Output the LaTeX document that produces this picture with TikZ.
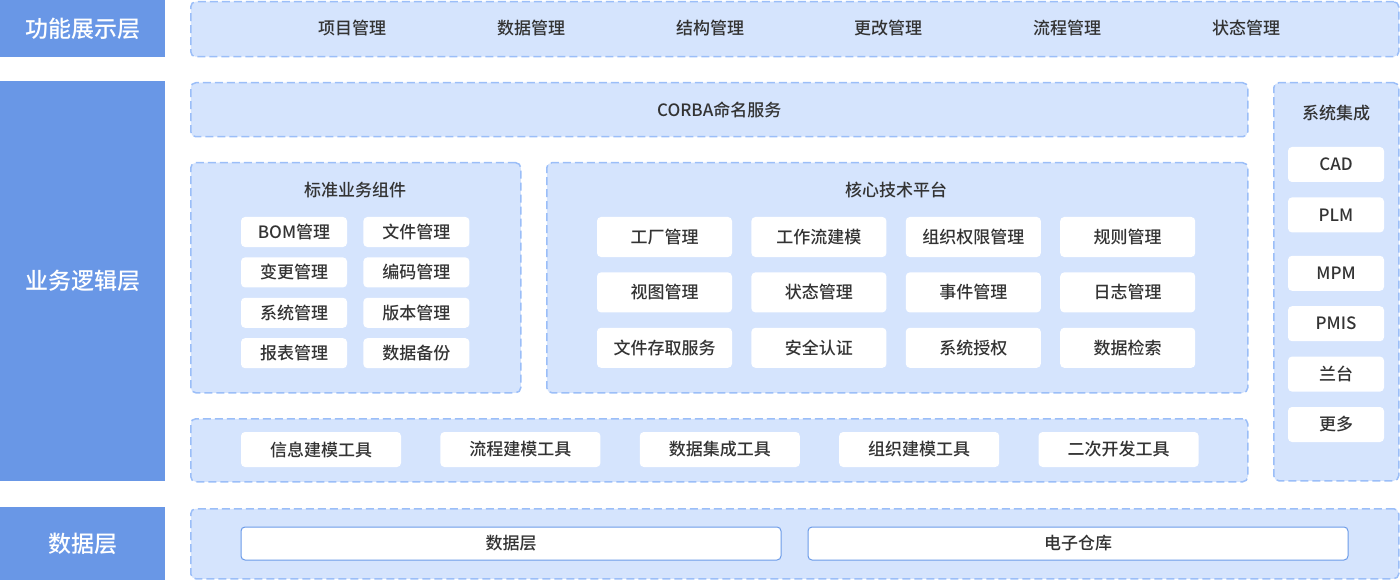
\documentclass[tikz,border=0pt]{standalone}
\usepackage{fontspec}
\setmainfont{Noto Sans CJK SC Medium}
\usetikzlibrary{positioning}
\definecolor{layerblue}{HTML}{6997E6}
\definecolor{framefill}{HTML}{D5E4FD}
\definecolor{framedash}{HTML}{9BBEF8}
\definecolor{txtgray}{HTML}{333333}
\definecolor{lineblue}{HTML}{6B9BE8}
\tikzstyle{layer} = [rectangle, fill=layerblue, text=white, inner sep=0pt,
    font=\fontsize{23}{23}\selectfont, minimum width=165pt, anchor=north west]
\tikzstyle{frame} = [rectangle, draw=framedash, fill=framefill, line width=1.5pt,
    dash pattern=on 8pt off 4pt, rounded corners=5pt, inner sep=0pt, anchor=north west]
\tikzstyle{heading} = [text=txtgray, font=\fontsize{17}{17}\selectfont, inner sep=0pt]
\tikzstyle{item} = [rectangle, fill=white, rounded corners=4pt, text=txtgray,
    font=\fontsize{17}{17}\selectfont, inner sep=0pt]
\tikzstyle{stditem} = [item, minimum width=106pt, minimum height=30pt]
\tikzstyle{coreitem} = [item, minimum width=135pt, minimum height=40pt]
\tikzstyle{sysitem} = [item, minimum width=96pt, minimum height=35pt]
\tikzstyle{toolitem} = [item, minimum width=160pt, minimum height=35pt]
\tikzstyle{dataitem} = [item, draw=lineblue, line width=1pt, minimum width=540pt, minimum height=33pt]
\begin{document}
\begin{tikzpicture}[x=1pt,y=-1pt]
  \useasboundingbox (0,0) rectangle (1400,580);

  % layers on the left
  \node[layer, minimum height=57pt]  (lshow)  at (0,0)   {功能展示层};
  \node[layer, minimum height=400pt] (llogic) at (0,81)  {业务逻辑层};
  \node[layer, minimum height=73pt]  (ldata)  at (0,507) {数据层};

  % dashed frames
  \node[frame, minimum width=1208pt, minimum height=55pt]  (show)  at (190,1)    {};
  \node[frame, minimum width=1057pt, minimum height=54pt]  (corba) at (190,82)   {};
  \node[frame, minimum width=330pt,  minimum height=230pt] (std)   at (190,162)  {};
  \node[frame, minimum width=701pt,  minimum height=230pt] (core)  at (546,162)  {};
  \node[frame, minimum width=1057pt, minimum height=63pt]  (tools) at (190,418)  {};
  \node[frame, minimum width=125pt,  minimum height=398pt] (integ) at (1273,82)  {};
  \node[frame, minimum width=1208pt, minimum height=70pt]  (data)  at (190,508)  {};

  % function display
  \node[heading] (proj)   at (352,28)  {项目管理};
  \node[heading] (dmgmt)  at (531,28)  {数据管理};
  \node[heading] (struct) at (710,28)  {结构管理};
  \node[heading] (change) at (888,28)  {更改管理};
  \node[heading] (flow)   at (1067,28) {流程管理};
  \node[heading] (state)  at (1246,28) {状态管理};

  \node[heading] (corbat) at (corba.center) {CORBA命名服务};

  % standard components
  \node[heading] (stdt) at (355,190) {标准业务组件};
  \node[stditem] (bom)    at (294,232)          {BOM管理};
  \node[stditem] (file)   [right=16pt of bom]   {文件管理};
  \node[stditem] (chg)    [below=10pt of bom]   {变更管理};
  \node[stditem] (code)   [right=16pt of chg]   {编码管理};
  \node[stditem] (sys)    [below=10pt of chg]   {系统管理};
  \node[stditem] (ver)    [right=16pt of sys]   {版本管理};
  \node[stditem] (report) [below=10pt of sys]   {报表管理};
  \node[stditem] (backup) [right=16pt of report] {数据备份};

  % core platform
  \node[heading] (coret) at (896,190) {核心技术平台};
  \node[coreitem] (factory) at (664.5,237)        {工厂管理};
  \node[coreitem] (wflow)  [right=19pt of factory] {工作流建模};
  \node[coreitem] (perm)   [right=19pt of wflow]   {组织权限管理};
  \node[coreitem] (rule)   [right=19pt of perm]    {规则管理};
  \node[coreitem] (view)   [below=15pt of factory] {视图管理};
  \node[coreitem] (stat)   [right=19pt of view]    {状态管理};
  \node[coreitem] (event)  [right=19pt of stat]    {事件管理};
  \node[coreitem] (log)    [right=19pt of event]   {日志管理};
  \node[coreitem] (access) [below=15pt of view]    {文件存取服务};
  \node[coreitem] (auth)   [right=19pt of access]  {安全认证};
  \node[coreitem] (grant)  [right=19pt of auth]    {系统授权};
  \node[coreitem] (search) [right=19pt of grant]   {数据检索};

  % tools
  \node[toolitem] (info)   at (321,449.5)          {信息建模工具};
  \node[toolitem] (ftool)  [right=39pt of info]    {流程建模工具};
  \node[toolitem] (dtool)  [right=39pt of ftool]   {数据集成工具};
  \node[toolitem] (otool)  [right=39pt of dtool]   {组织建模工具};
  \node[toolitem] (dev)    [right=39pt of otool]   {二次开发工具};

  % system integration
  \node[heading] (integt) at (1336,113) {系统集成};
  \node[sysitem] (cad)   at (1336,164.5)       {CAD};
  \node[sysitem] (plm)   [below=15pt of cad]   {PLM};
  \node[sysitem] (mpm)   [below=23pt of plm]   {MPM};
  \node[sysitem] (pmis)  [below=15pt of mpm]   {PMIS};
  \node[sysitem] (lantai) [below=15pt of pmis] {兰台};
  \node[sysitem] (more)  [below=15pt of lantai] {更多};

  % data layer
  \node[dataitem] (dlayer) at (511,543.5)        {数据层};
  \node[dataitem] (store)  [right=26pt of dlayer] {电子仓库};
\end{tikzpicture}
\end{document}
